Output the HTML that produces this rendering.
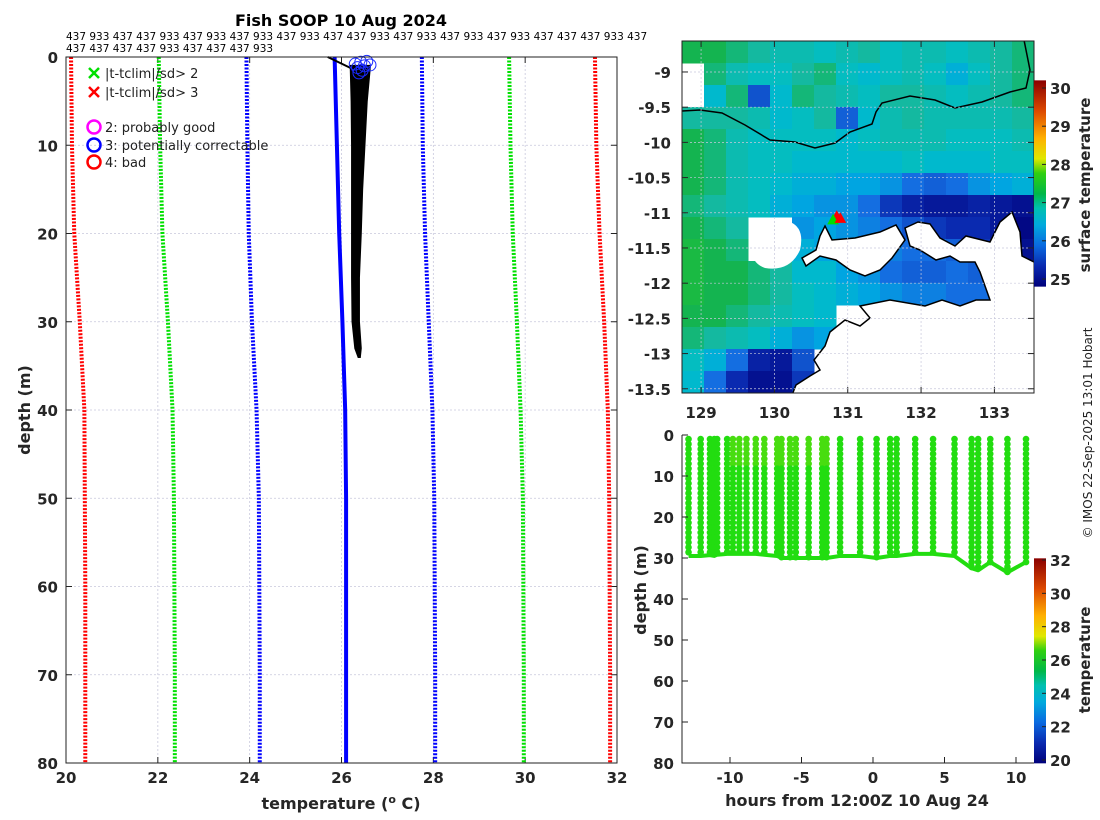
<!DOCTYPE html>
<html><head><meta charset="utf-8">
<style>
html,body{margin:0;padding:0;background:#fff;}
svg{display:block;font-family:"DejaVu Sans","Liberation Sans",sans-serif;}
.tk{font-size:15px;font-weight:bold;fill:#262626;}
.lab{font-size:16px;font-weight:bold;fill:#262626;}
</style></head>
<body>
<svg id="fig" width="1100" height="820" viewBox="0 0 1100 820" xmlns="http://www.w3.org/2000/svg">
<defs>
<linearGradient id="cbSST" x1="0" y1="1" x2="0" y2="0">
<stop offset="0" stop-color="#00007a"/><stop offset="0.1" stop-color="#0a2ab0"/><stop offset="0.2" stop-color="#0a6ae0"/><stop offset="0.3" stop-color="#00aadd"/><stop offset="0.38" stop-color="#00c0b0"/><stop offset="0.45" stop-color="#00b848"/><stop offset="0.55" stop-color="#30d010"/><stop offset="0.62" stop-color="#e0e800"/><stop offset="0.72" stop-color="#ffb000"/><stop offset="0.85" stop-color="#dd4a00"/><stop offset="1" stop-color="#8a0000"/>
</linearGradient>
<clipPath id="mapClip"><rect x="682" y="41" width="352" height="352"/></clipPath>
</defs>

<text x="341" y="26" text-anchor="middle" style="font-size:16px;font-weight:bold">Fish SOOP 10 Aug 2024</text>
<text x="66" y="40" style="font-size:10.5px">437 933 437 437 933 437 933 437 933 437 933 437 437 933 437 933 437 933 437 933 437 437 437 933 437</text>
<text x="66" y="52" style="font-size:10.5px">437 437 437 437 933 437 437 437 933</text>

<g id="left"></g>
<g id="map"></g>
<g id="br"></g>

<text transform="translate(1092,433) rotate(-90)" text-anchor="middle" style="font-size:12px;fill:#222">© IMOS 22-Sep-2025 13:01 Hobart</text>
</svg>
<script>
// ---------- Left profile chart data ----------
const depthLevels = [0, 10, 20, 30, 40, 50, 60, 70, 80];
const climRedLo   = [20.11, 20.13, 20.18, 20.3, 20.4, 20.41, 20.42, 20.42, 20.42];
const climGreenLo = [22.02, 22.05, 22.1, 22.22, 22.32, 22.35, 22.36, 22.37, 22.37];
const climBlueLo  = [23.93, 23.95, 23.98, 24.05, 24.15, 24.2, 24.21, 24.22, 24.22];
const climMean    = [25.85, 25.9, 25.95, 26.02, 26.08, 26.1, 26.1, 26.1, 26.1];
const climBlueHi  = [27.75, 27.77, 27.82, 27.9, 27.98, 28.02, 28.03, 28.04, 28.04];
const climGreenHi = [29.65, 29.68, 29.73, 29.82, 29.9, 29.95, 29.96, 29.97, 29.97];
const climRedHi   = [31.52, 31.55, 31.62, 31.72, 31.8, 31.83, 31.84, 31.85, 31.85];
const obsDepth = [1, 5, 10, 15, 20, 25, 30, 33, 34];
const obsTmin  = [26.2, 26.22, 26.23, 26.23, 26.23, 26.23, 26.24, 26.3, 26.37];
const obsTmax  = [26.62, 26.55, 26.5, 26.45, 26.42, 26.38, 26.38, 26.42, 26.4];
const flagT = [26.3, 26.35, 26.42, 26.5, 26.55, 26.62, 26.45, 26.38];
const flagD = [0.8, 1.2, 0.6, 1.0, 0.5, 0.9, 1.5, 1.8];
const xTicks = [20, 22, 24, 26, 28, 30, 32];
const yTicks = [0, 10, 20, 30, 40, 50, 60, 70, 80];

// ---------- Map data (SST grid, 16x16, null = no data) ----------
const mapLonRange = [128.74, 133.54];
const mapLatRange = [-8.56, -13.56];
const lonTicks = [129, 130, 131, 132, 133];
const latTicks = [-9, -9.5, -10, -10.5, -11, -11.5, -12, -12.5, -13, -13.5];
const sstTicks = [25, 26, 27, 28, 29, 30];
const N = null;
const sstRows = [
[27.0,27.0,26.9,26.8,26.7,26.7,26.6,26.7,26.8,26.6,26.7,26.7,26.6,26.7,26.8,26.9],
[N,26.9,26.7,26.6,26.6,26.8,26.9,26.6,26.5,26.6,26.7,26.6,26.4,26.6,26.8,26.9],
[N,26.5,26.9,25.8,26.5,26.9,26.8,26.7,26.6,26.8,26.8,26.7,26.6,26.7,26.8,26.9],
[26.8,26.8,26.8,26.7,26.5,26.6,26.8,25.9,26.5,26.7,26.8,26.7,26.7,26.7,26.7,26.8],
[27.0,26.9,26.7,26.6,26.6,26.6,26.6,26.5,26.6,26.7,26.7,26.7,26.6,26.6,26.6,26.7],
[27.0,26.9,26.7,26.6,26.6,26.5,26.5,26.5,26.5,26.5,26.6,26.5,26.5,26.5,26.6,26.6],
[27.0,26.9,26.7,26.6,26.5,26.4,26.4,26.3,26.3,26.2,26.0,25.9,26.0,26.2,26.3,26.4],
[26.9,26.8,26.7,26.6,26.4,26.3,26.2,26.2,26.0,25.6,25.4,25.3,25.3,25.4,25.3,25.2],
[27.0,26.9,26.8,N,N,26.2,26.3,26.2,26.1,26.0,25.8,25.6,25.5,25.5,25.3,25.1],
[27.1,27.0,26.9,N,N,26.4,26.3,26.2,26.2,26.1,26.0,26.0,25.9,25.6,25.3,25.2],
[27.1,27.0,27.0,26.9,26.8,26.5,26.5,26.3,26.2,26.0,25.9,25.9,26.0,25.9,25.8,25.6],
[27.1,27.0,27.0,26.9,26.8,26.6,26.5,26.4,26.3,26.2,26.1,26.1,26.0,26.0,N,N],
[27.0,27.0,26.9,26.8,26.7,26.6,26.5,N,N,N,N,N,N,N,N,N],
[26.9,26.8,26.7,26.6,26.4,26.2,26.3,N,N,N,N,N,N,N,N,N],
[26.6,26.4,26.0,25.4,25.3,25.8,N,N,N,N,N,N,N,N,N,N],
[26.5,26.0,25.5,25.2,25.2,25.6,N,N,N,N,N,N,N,N,N,N]
];
const shipLon = [130.85, 130.8, 130.9];
const shipLat = [-11.05, -11.1, -11.08];

// ---------- Depth-time data ----------
const castHours = [-12.9,-12.05,-11.4,-11.1,-10.9,-10.2,-9.8,-9.35,-8.85,-8.2,-7.6,-6.7,-6.4,-5.8,-5.4,-4.5,-3.55,-3.25,-2.3,-0.9,0.25,1.2,1.65,2.95,4.2,5.7,6.9,7.35,8.2,9.4,10.7];
const castBottom = [29.5,29.5,29.3,29.5,29.2,29,29,29,29,29,29.2,29.5,30,30,30,30,30,30,29.5,29.5,30,29.5,29.5,29,29,29.5,32.5,33,31,33.5,31];
const hourTicks = [-10, -5, 0, 5, 10];
const depthTicks2 = [0, 10, 20, 30, 40, 50, 60, 70, 80];
const tempTicks2 = [20, 22, 24, 26, 28, 30, 32];

const NS = "http://www.w3.org/2000/svg";
function mk(parent, tag, attrs, text) {
  const e = document.createElementNS(NS, tag);
  for (const k in attrs) e.setAttribute(k, attrs[k]);
  if (text !== undefined) e.textContent = text;
  parent.appendChild(e);
  return e;
}

// ===== Left chart =====
const L = document.getElementById('left');
const lx = t => 66 + (t - 20) / 12 * 551;
const ly = d => 57 + d / 80 * 706;
for (const t of xTicks) {
  const g = mk(L, 'line', {x1: lx(t), x2: lx(t), y1: 57, y2: 763, stroke: '#c8c8dc', 'stroke-width': 0.8, 'stroke-dasharray': '2,2'});
  
  
  const tl = mk(L, 'text', {x: lx(t), y: 783, 'text-anchor': 'middle', class: 'tk'}, String(t));
  
  
  mk(L, 'line', {x1: lx(t), x2: lx(t), y1: 763, y2: 757, stroke: '#222'});
  mk(L, 'line', {x1: lx(t), x2: lx(t), y1: 57, y2: 63, stroke: '#222'});
}
for (const d of yTicks) {
  const g = mk(L, 'line', {x1: 66, x2: 617, y1: ly(d), y2: ly(d), stroke: '#c8c8dc', 'stroke-width': 0.8, 'stroke-dasharray': '2,2'});
  
  
  const tl = mk(L, 'text', {x: 58, y: ly(d) + 6, 'text-anchor': 'end', class: 'tk'}, String(d));
  
  
  mk(L, 'line', {x1: 66, x2: 72, y1: ly(d), y2: ly(d), stroke: '#222'});
  mk(L, 'line', {x1: 611, x2: 617, y1: ly(d), y2: ly(d), stroke: '#222'});
}
function profLine(arr, color, dashed, name, w) {
  const pts = arr.map((t, i) => lx(t) + ',' + ly(depthLevels[i])).join(' ');
  const p = mk(L, 'polyline', {points: pts, fill: 'none', stroke: color, 'stroke-width': w, 'stroke-dasharray': dashed ? '2,1.5' : 'none'});
  
  
}
profLine(climRedLo, '#ff0000', true, 'clim-minus-3sd', 4);
profLine(climGreenLo, '#00e000', true, 'clim-minus-2sd', 4);
profLine(climBlueLo, '#0000ff', true, 'clim-minus-1sd', 4);
profLine(climBlueHi, '#0000ff', true, 'clim-plus-1sd', 4);
profLine(climGreenHi, '#00e000', true, 'clim-plus-2sd', 4);
profLine(climRedHi, '#ff0000', true, 'clim-plus-3sd', 4);
profLine(climMean, '#0000ff', false, 'clim-mean', 4);
{
  const up = obsDepth.map((d, i) => lx(obsTmin[i]) + ',' + ly(d));
  const dn = obsDepth.map((d, i) => lx(obsTmax[i]) + ',' + ly(d)).reverse();
  const p = mk(L, 'polygon', {points: up.concat(dn).join(' '), fill: '#000', stroke: '#000', 'stroke-width': 2});
  
  
  const s = mk(L, 'line', {x1: lx(25.7), y1: ly(0), x2: lx(26.3), y2: ly(1.5), stroke: '#000', 'stroke-width': 2});
  
  
}
flagT.forEach((t, i) => {
  const c = mk(L, 'circle', {cx: lx(t), cy: ly(flagD[i]), r: 6, fill: 'none', stroke: '#1a2aff', 'stroke-width': 1});
  
  
});
mk(L, 'rect', {x: 66, y: 57, width: 551, height: 706, fill: 'none', stroke: '#222', 'stroke-width': 1});
{
  const lg = mk(L, 'g', {});
  
  
  const items = [
    ['x', '#00e000', 73, '|t-tclim|/sd> 2'],
    ['x', '#ff0000', 92, '|t-tclim|/sd> 3'],
    ['o', '#ff00ff', 127, '2: probably good'],
    ['o', '#0000ff', 145, '3: potentially correctable'],
    ['o', '#ff0000', 162, '4: bad']
  ];
  for (const [k, c, y, txt] of items) {
    if (k === 'x') {
      mk(lg, 'path', {d: `M89 ${y-5} L99 ${y+5} M99 ${y-5} L89 ${y+5}`, stroke: c, 'stroke-width': 2.5});
    } else {
      mk(lg, 'circle', {cx: 94, cy: y, r: 6.5, fill: 'none', stroke: c, 'stroke-width': 2.5});
    }
    const t = mk(lg, 'text', {x: 105, y: y + 5, style: 'font-size:13px;fill:#222'}, txt);
    
    
  }
}
{
  const t = mk(L, 'text', {transform: 'translate(30,410) rotate(-90)', 'text-anchor': 'middle', class: 'lab'}, 'depth (m)');
  
  
  const x = mk(L, 'text', {x: 341, y: 809, 'text-anchor': 'middle', class: 'lab'});
  
  
  x.innerHTML = 'temperature (<tspan dy="-6" style="font-size:11px">o</tspan><tspan dy="6"> C)</tspan>';
}

// ===== Map =====
const M = document.getElementById('map');
const mx = lon => 682 + (lon - mapLonRange[0]) / (mapLonRange[1] - mapLonRange[0]) * 352;
const my = lat => 41 + (lat - mapLatRange[0]) / (mapLatRange[1] - mapLatRange[0]) * 352;
const stops = [[25,[0,0,122]],[25.5,[10,42,176]],[26,[20,110,225]],[26.3,[0,165,225]],[26.55,[0,190,200]],[26.8,[20,185,160]],[27,[20,180,80]],[27.5,[48,208,16]],[28,[224,232,0]],[28.5,[255,176,0]],[29.3,[221,74,0]],[30,[138,0,0]]];
function cmap(v) {
  if (v <= stops[0][0]) return `rgb(${stops[0][1]})`;
  for (let i = 1; i < stops.length; i++) {
    if (v <= stops[i][0]) {
      const f = (v - stops[i-1][0]) / (stops[i][0] - stops[i-1][0]);
      const a = stops[i-1][1], b = stops[i][1];
      return `rgb(${a.map((q, j) => Math.round(q + (b[j] - q) * f)).join(',')})`;
    }
  }
  return `rgb(${stops[stops.length-1][1]})`;
}
{
  const gg = mk(M, 'g', {'clip-path': 'url(#mapClip)'});
  const nr = sstRows.length, nc = sstRows[0].length;
  const cw = 352 / nc, ch = 352 / nr;
  sstRows.forEach((row, j) => row.forEach((v, i) => {
    if (v === null) return;
    const r = mk(gg, 'rect', {x: 682 + i * cw, y: 41 + j * ch, width: cw + 0.5, height: ch + 0.5, fill: cmap(v)});
    
    
  }));
  const cloud = mk(gg, 'path', {d: 'M752 240 Q760 220 790 222 Q805 228 800 250 Q790 272 765 268 Q748 262 752 240Z', fill: '#fff'});
  
  
  const isl = mk(gg, 'path', {d: 'M825 226 L832 240 L855 238 L880 232 L896 225 L905 240 L892 258 L880 270 L865 276 L850 270 L836 260 L820 256 L806 266 L802 258 L816 250 L820 236Z', fill: '#fff', stroke: '#000', 'stroke-width': 1.5});
  
  
  const main = mk(gg, 'path', {d: 'M905 228 L918 222 L930 224 L940 238 L955 246 L966 236 L990 242 L1000 222 L1012 212 L1020 232 L1022 256 L1034 262 L1040 262 L1040 400 L790 400 L796 385 L810 376 L820 370 L814 360 L825 346 L830 332 L845 320 L860 326 L870 318 L860 306 L890 300 L925 306 L942 300 L960 306 L976 300 L990 300 L985 286 L980 272 L975 262 L960 262 L950 256 L936 260 L920 250 L910 246Z', fill: '#fff', stroke: '#000', 'stroke-width': 1.5});
  
  
  const top = mk(gg, 'path', {d: 'M682 111 L700 110 L722 113 L745 125 L770 140 L795 142 L815 148 L835 143 L850 132 L872 124 L876 112 L882 103 L910 96 L935 100 L955 108 L982 102 L1010 92 L1026 88 L1030 70 L1024 40', fill: 'none', stroke: '#000', 'stroke-width': 1.5});
  
  
}
for (const lon of lonTicks) {
  mk(M, 'line', {x1: mx(lon), x2: mx(lon), y1: 41, y2: 393, stroke: '#c8c8dc', 'stroke-width': 0.7, 'stroke-dasharray': '2,2'});
  mk(M, 'line', {x1: mx(lon), x2: mx(lon), y1: 393, y2: 387, stroke: '#222'});
  mk(M, 'line', {x1: mx(lon), x2: mx(lon), y1: 41, y2: 47, stroke: '#222'});
  const t = mk(M, 'text', {x: mx(lon), y: 418, 'text-anchor': 'middle', class: 'tk'}, String(lon));
  
  
}
for (const lat of latTicks) {
  mk(M, 'line', {x1: 682, x2: 1034, y1: my(lat), y2: my(lat), stroke: '#c8c8dc', 'stroke-width': 0.7, 'stroke-dasharray': '2,2'});
  mk(M, 'line', {x1: 682, x2: 688, y1: my(lat), y2: my(lat), stroke: '#222'});
  mk(M, 'line', {x1: 1028, x2: 1034, y1: my(lat), y2: my(lat), stroke: '#222'});
  const t = mk(M, 'text', {x: 671, y: my(lat) + 6, 'text-anchor': 'end', class: 'tk'}, String(lat));
  
  
}
shipLon.forEach((lon, i) => {
  const x = mx(lon), y = my(shipLat[i]);
  const p = mk(M, 'path', {d: `M${x-5} ${y+4} L${x} ${y-5} L${x+5} ${y+4}Z`, fill: i === 1 ? '#00e000' : '#ff0000', stroke: i === 1 ? '#00e000' : '#ff0000'});
  
  
});
mk(M, 'rect', {x: 682, y: 41, width: 352, height: 352, fill: 'none', stroke: '#222'});
{
  const sy = v => 279 - (v - 25) / 5 * 191;
  const cb = mk(M, 'rect', {x: 1034, y: sy(30.2), width: 12, height: sy(24.8) - sy(30.2), fill: 'url(#cbSST)'});
  
  
  for (const v of sstTicks) {
    mk(M, 'line', {x1: 1046, x2: 1042, y1: sy(v), y2: sy(v), stroke: '#222'});
    const t = mk(M, 'text', {x: 1050, y: sy(v) + 6, class: 'tk'}, String(v));
    
    
  }
  const t = mk(M, 'text', {transform: 'translate(1090,185) rotate(-90)', 'text-anchor': 'middle', class: 'lab', style: 'font-size:15px'}, 'surface temperature');
  
  
}

// ===== Depth-time chart =====
const B = document.getElementById('br');
const bx = h => 873 + h * 14.3;
const by = d => 435 + d / 80 * 328;
{
  const col = '#22dd10';
  const pts = castHours.map((h, i) => bx(h) + ',' + by(castBottom[i])).join(' ');
  const bt = mk(B, 'polyline', {points: pts, fill: 'none', stroke: col, 'stroke-width': 4, 'stroke-linejoin': 'round'});
  
  
  castHours.forEach((h, i) => {
    const g = mk(B, 'g', {});
    
    
    for (let d = 1; d <= castBottom[i]; d += 1.2) {
      mk(g, 'circle', {cx: bx(h), cy: by(d), r: 3.3, fill: d < 8 && h > -10 && h < -3 ? '#48dd10' : col});
    }
  });
}
for (const h of hourTicks) {
  mk(B, 'line', {x1: bx(h), x2: bx(h), y1: 763, y2: 757, stroke: '#222'});
  const t = mk(B, 'text', {x: bx(h), y: 783, 'text-anchor': 'middle', class: 'tk'}, String(h));
  
  
}
for (const d of depthTicks2) {
  mk(B, 'line', {x1: 682, x2: 688, y1: by(d), y2: by(d), stroke: '#222'});
  const t = mk(B, 'text', {x: 674, y: by(d) + 6, 'text-anchor': 'end', class: 'tk'}, String(d));
  
  
}
mk(B, 'path', {d: 'M682 435 L682 763 L1034 763', fill: 'none', stroke: '#222'});
{
  const ty = v => 760 - (v - 20) / 12 * 200;
  const cb = mk(B, 'rect', {x: 1034, y: ty(32.1), width: 12, height: ty(19.8) - ty(32.1), fill: 'url(#cbSST)'});
  
  
  for (const v of tempTicks2) {
    mk(B, 'line', {x1: 1046, x2: 1042, y1: ty(v), y2: ty(v), stroke: '#222'});
    const t = mk(B, 'text', {x: 1050, y: ty(v) + 6, class: 'tk'}, String(v));
    
    
  }
  const t = mk(B, 'text', {transform: 'translate(1090,660) rotate(-90)', 'text-anchor': 'middle', class: 'lab', style: 'font-size:15px'}, 'temperature');
  
  
  const y = mk(B, 'text', {transform: 'translate(646,590) rotate(-90)', 'text-anchor': 'middle', class: 'lab'}, 'depth (m)');
  
  
  const x = mk(B, 'text', {x: 857, y: 806, 'text-anchor': 'middle', class: 'lab'}, 'hours from 12:00Z 10 Aug 24');
  
  
}
</script>
</body></html>
